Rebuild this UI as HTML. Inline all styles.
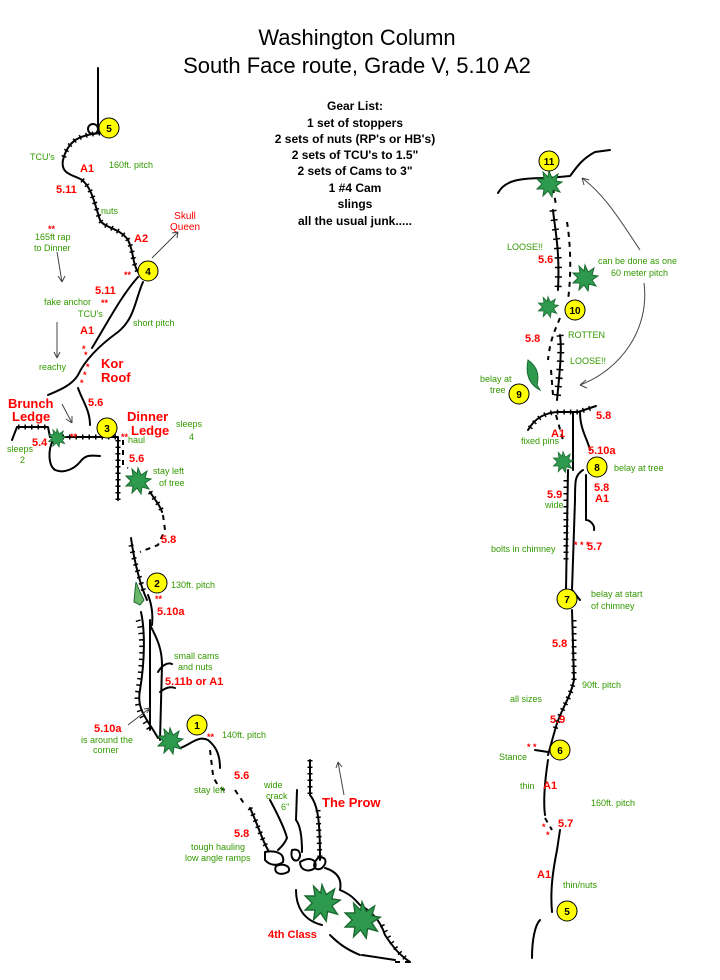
<!DOCTYPE html>
<html><head><meta charset="utf-8"><style>
body{margin:0;background:#fff}
svg{display:block}
.g{fill:#339900;font:9px "Liberation Sans",sans-serif}
.r{fill:#ff0000;font:bold 11px "Liberation Sans",sans-serif}
.rb{fill:#ff0000;font:bold 13px "Liberation Sans",sans-serif}
.l{fill:none;stroke:#000;stroke-width:2;stroke-linecap:round;stroke-linejoin:round}
.h{fill:none;stroke:#000;stroke-width:5;stroke-dasharray:1.5 5}
.d{fill:none;stroke:#000;stroke-width:2;stroke-dasharray:5 5}
.c{fill:#ffff00;stroke:#000;stroke-width:1}
.n{font:bold 10px "Liberation Sans",sans-serif;fill:#000;text-anchor:middle}
.k{font:bold 12px "Liberation Sans",sans-serif;fill:#000;text-anchor:middle}
.t{fill:#2e9a4e;stroke:#1a6a30;stroke-width:1}
.a{fill:none;stroke:#444;stroke-width:1}
</style></head><body>
<svg width="720" height="980" viewBox="0 0 720 980" xmlns="http://www.w3.org/2000/svg">
<defs>
<polygon id="star" points="0,-13 3,-6 9,-10 7,-3 13,-2 7,2 11,8 4,6 3,13 -1,7 -6,12 -5,5 -12,5 -7,0 -12,-5 -5,-5 -6,-12 -1,-7"/>
</defs>
<text x="357" y="45" text-anchor="middle" style="font:22px 'Liberation Sans',sans-serif">Washington Column</text>
<text x="357" y="73" text-anchor="middle" style="font:22px 'Liberation Sans',sans-serif">South Face route,  Grade V, 5.10 A2</text>
<text class="k" x="355" y="110">Gear List:</text>
<text class="k" x="355" y="127">1 set of stoppers</text>
<text class="k" x="355" y="143">2 sets of nuts (RP's or HB's)</text>
<text class="k" x="355" y="159">2 sets of TCU's to 1.5"</text>
<text class="k" x="355" y="175">2 sets of Cams to 3"</text>
<text class="k" x="355" y="192">1 #4 Cam</text>
<text class="k" x="355" y="208">slings</text>
<text class="k" x="355" y="225">all the usual junk.....</text>

<path class="l" d="M98,68 L98,128"/>
<circle cx="93" cy="129" r="5" fill="none" stroke="#000" stroke-width="2"/>
<path class="l" d="M100,133 C80,135 68,140 63,160 C60,175 75,175 82,180 C92,188 95,205 100,220 C104,228 120,228 128,240 C134,252 132,262 138,272"/>
<path class="h" d="M100,133 C80,135 68,140 63,160 M82,180 C92,188 95,205 100,220 C104,228 120,228 128,240 C134,252 132,262 138,272"/>
<path class="l" d="M138,277 C122,295 110,318 92,348"/>
<path class="l" d="M143,282 C135,300 135,318 118,332 C100,345 85,360 78,375 C72,385 60,390 48,395"/>
<path class="h" d="M135,300 C135,318 118,332 C100,345 85,360 78,375 C72,385 60,390 50,394"/>
<path class="l" d="M78,388 C82,400 90,410 90,425"/>
<path class="l" d="M12,440 L17,427 L48,427 L50,437 L118,437 L118,500"/>
<path class="h" d="M18,427 L48,427 M56,437 L118,437 M118,440 L118,500"/>
<path class="l" d="M53,440 C48,450 48,465 55,470 C65,474 75,468 80,462 C85,455 90,455 100,456"/>
<path class="d" d="M123,440 L123,465 L128,468"/>
<path class="l" d="M150,492 C155,500 160,505 162,512"/>
<path class="h" d="M150,492 C155,500 160,505 162,512"/>
<path class="d" d="M163,515 L165,530 L158,545 L140,552"/>
<path class="l" d="M131,538 C134,560 140,585 147,600"/>
<path class="h" d="M131,545 C134,560 140,580 145,595"/>
<path class="l" d="M148,595 C152,605 153,615 152,625"/>
<path class="l" d="M141,612 C145,630 145,660 140,690 C136,710 148,720 158,738"/>
<path class="h" d="M138,620 C143,635 143,660 138,690 C135,705 140,715 150,730"/>
<path class="l" d="M150,620 L150,730 M150,625 C158,640 162,650 162,665 L160,740"/>
<path class="l" d="M158,672 C162,665 168,662 172,664 M160,692 C165,688 170,686 175,688"/>
<path class="a" d="M128,725 L150,708 M150,708 L144,709 M150,708 L147,713"/>
<path class="l" d="M180,748 C190,745 198,735 208,740 C214,745 220,752 220,768"/>
<path class="d" d="M210,750 L213,775 C216,785 222,790 228,792"/>
<path class="l" d="M250,808 C258,825 262,840 268,850"/>
<path class="h" d="M250,808 C258,825 262,840 268,850"/>
<path class="d" d="M235,790 L245,805" stroke-dasharray="2 5"/>
<path class="l" d="M270,800 C278,815 285,830 287,838 C284,845 280,848 278,850"/>
<path class="l" d="M297,790 L296,820 C300,825 302,835 302,852"/>
<path class="l" d="M310,760 L310,795 C318,805 320,820 320,860"/>
<path class="h" d="M310,760 L310,795 M318,810 L320,860"/>
<path class="l" d="M265,852 C275,850 285,853 283,862 C278,866 270,866 265,860 Z M276,866 C285,862 292,868 288,872 C280,876 273,873 276,866 Z M292,850 C300,848 302,855 298,860 C294,862 290,858 292,850 Z M300,862 C310,856 318,860 315,868 C308,873 300,870 300,862 Z M318,858 C326,856 328,862 322,868 C316,872 310,866 318,858 Z"/>
<path class="l" d="M325,868 C338,872 342,880 340,890 C352,895 355,900 360,905 C372,912 380,920 385,935 C395,950 400,955 410,962"/>
<path class="h" d="M382,925 C392,945 400,955 408,960"/>
<path class="l" d="M296,890 C296,905 302,920 322,925 M330,935 C340,945 348,950 360,955 M362,955 L395,960"/>
<path class="d" d="M395,962 L412,962"/>
<path class="a" d="M344,795 L338,762 M338,762 L336,768 M338,762 L342,767"/>
<use href="#star" x="322" y="903" class="t" transform="translate(322 903) scale(1.4) translate(-322 -903)"/>
<use href="#star" x="362" y="920" class="t" transform="translate(362 920) scale(1.4) translate(-362 -920)"/>
<use href="#star" x="170" y="741" class="t"/>
<use href="#star" x="138" y="481" class="t"/>
<use href="#star" x="57" y="438" class="t" transform="translate(57 438) scale(0.7) translate(-57 -438)"/>
<path d="M136,582 L140,592 L144,600 L140,605 L134,602 L135,590 Z" fill="#6cb86a" stroke="#1a6a30"/>
<path class="a" d="M57,252 L62,282 M62,282 L58,276 M62,282 L65,276"/>
<path class="a" d="M57,322 L57,358 M57,358 L54,352 M57,358 L60,352"/>
<path class="a" d="M62,404 L72,423 M72,423 L66,419 M72,423 L72,416"/>
<path class="a" d="M152,258 L178,232 M178,232 L172,233 M178,232 L177,238"/>

<text class="g" x="30" y="160">TCU's</text>
<text class="r" x="80" y="172">A1</text>
<text class="g" x="109" y="168">160ft. pitch</text>
<text class="r" x="56" y="193">5.11</text>
<text class="g" x="101" y="214">nuts</text>
<text class="r" x="134" y="242">A2</text>
<text x="185" y="219" fill="#ff0000" style="font:10px 'Liberation Sans',sans-serif" text-anchor="middle">Skull</text>
<text x="185" y="230" fill="#ff0000" style="font:10px 'Liberation Sans',sans-serif" text-anchor="middle">Queen</text>
<text class="r" x="48" y="232" style="font-size:9px">**</text>
<text class="g" x="35" y="240">165ft rap</text>
<text class="g" x="34" y="251">to Dinner</text>
<text class="r" x="124" y="278" style="font-size:9px">**</text>
<text class="r" x="95" y="294">5.11</text>
<text class="g" x="44" y="305">fake anchor</text><text class="r" x="101" y="306" style="font-size:9px">**</text>
<text class="g" x="78" y="317">TCU's</text>
<text class="r" x="80" y="334">A1</text>
<text class="g" x="133" y="326">short pitch</text>
<text class="r" x="82" y="352" style="font-size:9px">*</text><text class="r" x="84" y="358" style="font-size:9px">*</text><text class="r" x="86" y="370" style="font-size:9px">*</text><text class="r" x="83" y="378" style="font-size:9px">*</text><text class="r" x="80" y="386" style="font-size:9px">*</text>
<text class="rb" x="101" y="368">Kor</text>
<text class="rb" x="101" y="382">Roof</text>
<text class="g" x="39" y="370">reachy</text>
<text class="r" x="88" y="406">5.6</text>
<text class="rb" x="8" y="408">Brunch</text>
<text class="rb" x="12" y="421">Ledge</text>
<text class="r" x="70" y="440" style="font-size:9px">**</text>
<text class="rb" x="127" y="421">Dinner</text>
<text class="rb" x="131" y="435">Ledge</text>
<text class="r" x="121" y="440" style="font-size:9px">**</text>
<text class="g" x="128" y="443">haul</text>
<text class="g" x="176" y="427">sleeps</text>
<text class="g" x="189" y="440">4</text>
<text class="r" x="32" y="446">5.4</text>
<text class="g" x="7" y="452">sleeps</text>
<text class="g" x="20" y="463">2</text>
<text class="r" x="129" y="462">5.6</text>
<text class="g" x="153" y="474">stay left</text>
<text class="g" x="159" y="486">of tree</text>
<text class="r" x="161" y="543">5.8</text>
<text class="g" x="171" y="588">130ft. pitch</text>
<text class="r" x="155" y="602" style="font-size:9px">**</text>
<text class="r" x="157" y="615">5.10a</text>
<text class="g" x="174" y="659">small cams</text>
<text class="g" x="178" y="670">and nuts</text>
<text class="r" x="165" y="685">5.11b or A1</text>
<text class="r" x="94" y="732">5.10a</text>
<text class="g" x="81" y="743">is around the</text>
<text class="g" x="93" y="753">corner</text>
<text class="r" x="207" y="740" style="font-size:9px">**</text>
<text class="g" x="222" y="738">140ft. pitch</text>
<text class="r" x="234" y="779">5.6</text>
<text class="g" x="194" y="793">stay  left</text>
<text class="g" x="264" y="788">wide</text>
<text class="g" x="266" y="799">crack</text>
<text class="g" x="281" y="810">6"</text>
<text class="rb" x="322" y="807">The Prow</text>
<text class="r" x="234" y="837">5.8</text>
<text class="g" x="191" y="850">tough hauling</text>
<text class="g" x="185" y="861">low angle ramps</text>
<text class="r" x="268" y="938">4th Class</text>

<path class="l" d="M498,193 C505,180 520,178 548,178 L570,176 C575,170 580,160 595,152 L610,150"/>
<path class="d" d="M553,188 L556,205"/>
<path class="l" d="M553,210 C555,230 560,250 558,290"/>
<path class="h" d="M553,210 C555,230 560,250 558,290" style="stroke-width:7;stroke-dasharray:1.5 8"/>
<path class="d" d="M567,222 C570,240 572,270 568,300"/>
<path class="d" d="M560,318 C555,330 550,340 548,360 M551,370 L553,395"/>
<path class="l" d="M560,335 C562,350 560,370 557,400"/>
<path class="h" d="M560,335 C562,350 560,370 557,400" style="stroke-width:7;stroke-dasharray:1.5 7"/>
<path class="l" d="M528,430 C535,418 545,412 560,412 L578,412 L596,406"/>
<path class="h" d="M530,428 C537,418 545,412 560,412 L578,412 L594,407"/>
<path class="l" d="M573,412 L573,470 M580,412 C580,430 588,440 590,450"/>
<path class="d" d="M556,415 L563,440"/>
<path class="l" d="M583,470 C575,475 575,480 575,500 L572,590 L580,600"/>
<path class="l" d="M568,470 L566,590 L575,600"/>
<path class="h" d="M566,480 L566,560"/>
<path class="l" d="M586,475 L586,520 C590,520 595,525 594,530"/>
<path class="l" d="M572,610 L574,680 C570,700 560,710 555,730 L548,755"/>
<path class="h" d="M574,620 L574,680 C570,700 560,710 555,730"/>
<path class="l" d="M548,760 C545,780 543,800 545,815 M560,830 L557,850 C553,870 550,890 552,912"/>
<path class="d" d="M545,818 L552,830" stroke-dasharray="2 5"/>
<path class="l" d="M540,920 C535,925 532,940 532,958"/>
<path class="l" d="M535,750 L548,752"/>
<use href="#star" x="549" y="184" class="t"/>
<use href="#star" x="585" y="278" class="t"/>
<use href="#star" x="548" y="307" class="t" transform="translate(548 307) scale(0.8) translate(-548 -307)"/>
<use href="#star" x="563" y="462" class="t" transform="translate(563 462) scale(0.8) translate(-563 -462)"/>
<path d="M528,360 C535,365 540,372 537,385 L540,390 C530,385 525,375 528,360 Z" fill="#2e9a4e" stroke="#1a6a30"/>
<path class="a" d="M640,250 C620,220 605,195 582,178 M582,178 L584,185 M582,178 L589,180"/>
<path class="a" d="M644,283 C650,330 620,370 580,385 M580,385 L586,380 M580,385 L587,388"/>
<text class="g" x="507" y="250">LOOSE!!</text>
<text class="r" x="538" y="263">5.6</text>
<text class="g" x="598" y="264">can be done as one</text>
<text class="g" x="611" y="276">60 meter pitch</text>
<text class="r" x="525" y="342">5.8</text>
<text class="g" x="568" y="338">ROTTEN</text>
<text class="g" x="570" y="364">LOOSE!!</text>
<text class="g" x="480" y="382">belay at</text>
<text class="g" x="490" y="393">tree</text>
<text class="r" x="596" y="419">5.8</text>
<text class="r" x="551" y="437">A1</text>
<text class="g" x="521" y="444">fixed pins</text>
<text class="r" x="588" y="454">5.10a</text>
<text class="g" x="614" y="471">belay at tree</text>
<text class="r" x="594" y="491">5.8</text>
<text class="r" x="595" y="502">A1</text>
<text class="r" x="547" y="498">5.9</text>
<text class="g" x="545" y="508">wide</text>
<text class="r" x="574" y="548" style="font-size:9px">* * *</text>
<text class="g" x="491" y="552">bolts in chimney</text>
<text class="r" x="587" y="550">5.7</text>
<text class="g" x="591" y="597">belay at start</text>
<text class="g" x="591" y="609">of chimney</text>
<text class="r" x="552" y="647">5.8</text>
<text class="g" x="582" y="688">90ft. pitch</text>
<text class="g" x="510" y="702">all sizes</text>
<text class="r" x="550" y="723">5.9</text>
<text class="r" x="527" y="750" style="font-size:9px">* *</text>
<text class="g" x="499" y="760">Stance</text>
<text class="g" x="520" y="789">thin</text>
<text class="r" x="543" y="789">A1</text>
<text class="g" x="591" y="806">160ft. pitch</text>
<text class="r" x="558" y="827">5.7</text>
<text class="r" x="542" y="830" style="font-size:9px">*</text><text class="r" x="546" y="838" style="font-size:9px">*</text>
<text class="r" x="537" y="878">A1</text>
<text class="g" x="563" y="888">thin/nuts</text>

<g>
<circle class="c" cx="109" cy="128" r="10"/><text class="n" x="109" y="132">5</text>
<circle class="c" cx="148" cy="271" r="10"/><text class="n" x="148" y="275">4</text>
<circle class="c" cx="107" cy="428" r="10"/><text class="n" x="107" y="432">3</text>
<circle class="c" cx="157" cy="583" r="10"/><text class="n" x="157" y="587">2</text>
<circle class="c" cx="197" cy="725" r="10"/><text class="n" x="197" y="729">1</text>
<circle class="c" cx="549" cy="161" r="10"/><text class="n" x="549" y="165">11</text>
<circle class="c" cx="575" cy="310" r="10"/><text class="n" x="575" y="314">10</text>
<circle class="c" cx="519" cy="394" r="10"/><text class="n" x="519" y="398">9</text>
<circle class="c" cx="597" cy="467" r="10"/><text class="n" x="597" y="471">8</text>
<circle class="c" cx="567" cy="599" r="10"/><text class="n" x="567" y="603">7</text>
<circle class="c" cx="560" cy="750" r="10"/><text class="n" x="560" y="754">6</text>
<circle class="c" cx="567" cy="911" r="10"/><text class="n" x="567" y="915">5</text>
</g>
</svg>
</body></html>
